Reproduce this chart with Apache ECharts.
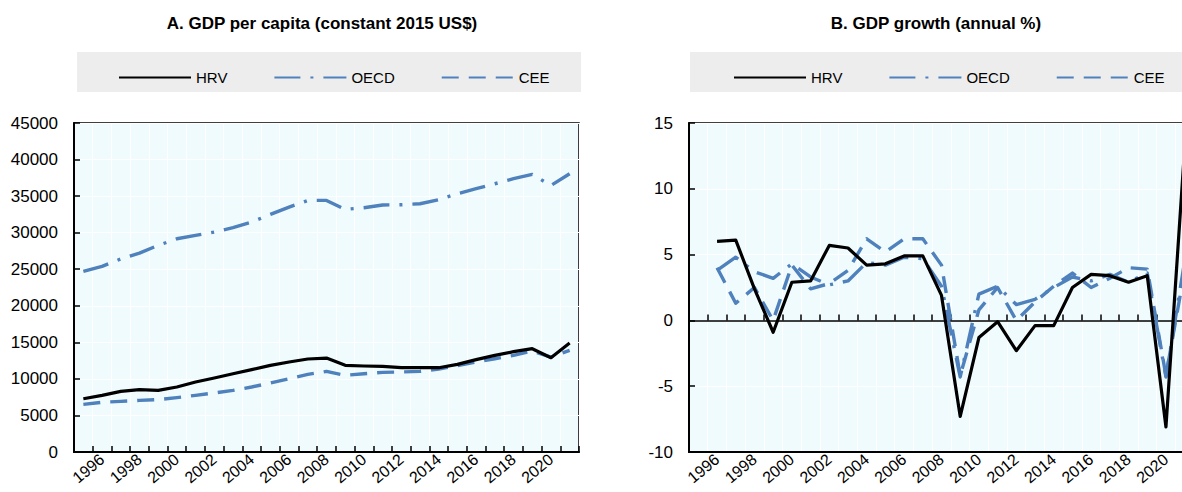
<!DOCTYPE html>
<html>
<head>
<meta charset="utf-8">
<script src="https://cdn.jsdelivr.net/npm/echarts@6/dist/echarts.min.js"></script>
<style>
  html, body { margin: 0; padding: 0; background: #fff; }
  #main { width: 1182px; height: 492px; }
</style>
</head>
<body>
<div id="main"></div>
<script>
// categories
var years = ['1995','1996','1997','1998','1999','2000','2001','2002','2003','2004','2005','2006','2007',
  '2008','2009','2010','2011','2012','2013','2014','2015','2016','2017','2018','2019','2020','2021'];

// A. GDP per capita (constant 2015 US$)
var hrvGdp  = [7290, 7750, 8300, 8520, 8430, 8890, 9570, 10120, 10710, 11260, 11850, 12310, 12720,
  12850, 11850, 11760, 11720, 11530, 11530, 11530, 11990, 12630, 13220, 13720, 14130, 12900, 14900];
var oecdGdp = [24700, 25390, 26400, 27210, 28260, 29170, 29630, 30080, 30680, 31450, 32500, 33500, 34410,
  34410, 33180, 33410, 33780, 33820, 33960, 34500, 35330, 36010, 36690, 37380, 37970, 36460, 38060];
var ceeGdp  = [6520, 6790, 6930, 7060, 7160, 7430, 7750, 8070, 8430, 8890, 9440, 10030, 10620,
  11030, 10480, 10710, 10890, 10940, 11030, 11350, 11810, 12310, 12760, 13220, 13810, 12990, 13900];

// B. GDP growth (annual %)
var hrvGrowth  = [null, 6.0, 6.1, 2.4, -0.9, 2.9, 3.0, 5.7, 5.5, 4.2, 4.3, 4.9, 4.9,
  1.9, -7.3, -1.3, -0.1, -2.3, -0.4, -0.4, 2.5, 3.5, 3.4, 2.9, 3.4, -8.1, 13.1];
var oecdGrowth = [null, 3.8, 4.8, 3.7, 3.2, 4.3, 3.3, 2.7, 3.0, 4.4, 4.2, 4.8, 4.7,
  2.6, -4.3, 2.0, 2.6, 1.2, 1.6, 2.5, 3.3, 3.0, 3.5, 2.9, 3.6, -4.3, 4.5];
var ceeGrowth  = [null, 4.0, 1.3, 2.5, 0.0, 4.2, 2.4, 2.8, 3.8, 6.2, 5.2, 6.2, 6.2,
  4.2, -4.2, 0.8, 2.5, 0.0, 1.4, 2.6, 3.6, 2.5, 3.2, 4.0, 3.9, -4.2, 3.8];

// axis ranges [min, max, step]
var gdpAxis = [0, 45000, 5000];
var growthAxis = [-10, 15, 5];
var seriesNames = ['HRV', 'OECD', 'CEE'];

var FONT = "'Liberation Sans', Arial, sans-serif";
var BLUE = '#4F81BD';
var PLOT_BG = '#F0FBFD';

var styles = {
  HRV:  { color: '#000000', width: 3.2, type: 'solid' },
  OECD: { color: BLUE, width: 3.4, type: [26, 10, 3, 10] },
  CEE:  { color: BLUE, width: 3.4, type: [17, 10] }
};

function line(name, data, xi, yi) {
  var s = styles[name];
  return {
    name: name, type: 'line', data: data,
    xAxisIndex: xi, yAxisIndex: yi,
    symbol: 'none', connectNulls: false,
    lineStyle: { color: s.color, width: s.width, type: s.type, cap: 'butt', join: 'round' },
    itemStyle: { color: s.color },
    z: name === 'HRV' ? 3 : 2
  };
}

function catAxis(grid, opts) {
  var ax = {
    type: 'category', gridIndex: grid, data: years, boundaryGap: true, position: 'bottom',
    axisLine: { show: true, onZero: false, lineStyle: { color: '#000', width: 2 } },
    axisTick: { show: true, inside: true, length: 6, interval: 0, lineStyle: { color: '#000', width: 1.5 } },
    axisLabel: {
      show: true, rotate: 40, margin: 5, color: '#000', fontSize: 16, fontFamily: FONT,
      interval: function (i) { return i % 2 === 1; }
    },
    splitLine: { show: true, interval: 0, lineStyle: { color: '#ffffff', width: 1 } }
  };
  for (var k in opts) ax[k] = opts[k];
  return ax;
}

function valAxis(grid, range) {
  return {
    type: 'value', gridIndex: grid, min: range[0], max: range[1], interval: range[2],
    axisLine: { show: true, lineStyle: { color: '#000', width: 2 } },
    axisTick: { show: true, inside: true, length: 6, lineStyle: { color: '#000', width: 1.5 } },
    axisLabel: { color: '#000', fontSize: 17, fontFamily: FONT, margin: 16,
      formatter: function (v) { return String(v); } },
    splitLine: { show: true, lineStyle: { color: '#ffffff', width: 1 } }
  };
}

function legend(left) {
  return {
    data: seriesNames, left: left, top: 65, width: 480, orient: 'horizontal',
    itemWidth: 72, itemHeight: 14, itemGap: 46,
    itemStyle: { color: 'transparent', borderWidth: 0, opacity: 0 },
    textStyle: { color: '#000', fontSize: 15, fontFamily: FONT },
    selectedMode: false
  };
}

var chart = echarts.init(document.getElementById('main'), null, { renderer: 'svg' });

var option = {
  animation: false,
  backgroundColor: '#ffffff',
  graphic: [
    { type: 'rect', shape: { x: 77, y: 52, width: 504, height: 40 }, style: { fill: '#EDEDED' }, z: -1 },
    { type: 'rect', shape: { x: 690, y: 52, width: 500, height: 40 }, style: { fill: '#EDEDED' }, z: -1 },
    { type: 'text', x: 322, y: 15, style: { text: 'A. GDP per capita (constant 2015 US$)', fill: '#000',
      font: 'bold 17px ' + FONT, textAlign: 'center' } },
    { type: 'text', x: 936, y: 15, style: { text: 'B. GDP growth (annual %)', fill: '#000',
      font: 'bold 17px ' + FONT, textAlign: 'center' } }
  ],
  legend: [legend(113), legend(728)],
  grid: [
    { left: 74, width: 505, top: 123, height: 329, show: true, backgroundColor: PLOT_BG,
      borderColor: '#000', borderWidth: 1.5, containLabel: false, outerBoundsMode: 'none' },
    { left: 689, width: 505, top: 123, height: 329, show: true, backgroundColor: PLOT_BG,
      borderColor: '#000', borderWidth: 1.5, containLabel: false, outerBoundsMode: 'none' }
  ],
  xAxis: [
    catAxis(0, {}),
    catAxis(1, { axisTick: { show: false } }),
    catAxis(1, {
      axisLine: { show: true, onZero: true, onZeroAxisIndex: 1, lineStyle: { color: '#000', width: 1.5 } },
      axisLabel: { show: false },
      splitLine: { show: false }
    })
  ],
  yAxis: [valAxis(0, gdpAxis), valAxis(1, growthAxis)],
  series: [
    line('HRV', hrvGdp, 0, 0),
    line('OECD', oecdGdp, 0, 0),
    line('CEE', ceeGdp, 0, 0),
    line('HRV', hrvGrowth, 1, 1),
    line('OECD', oecdGrowth, 1, 1),
    line('CEE', ceeGrowth, 1, 1)
  ]
};

chart.setOption(option);
</script>
</body>
</html>
